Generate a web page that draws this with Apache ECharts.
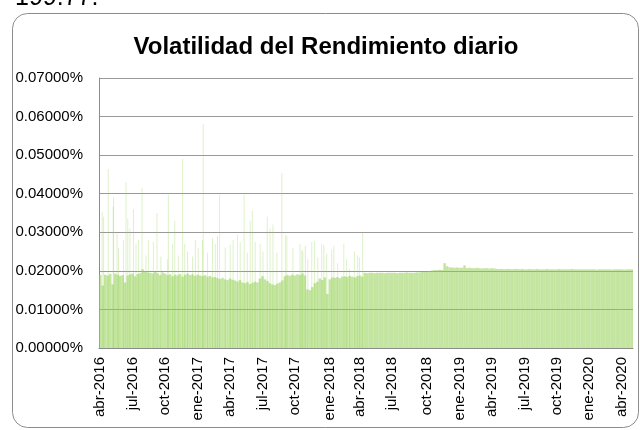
<!DOCTYPE html>
<html>
<head>
<meta charset="utf-8">
<script src="https://cdn.jsdelivr.net/npm/echarts@6/dist/echarts.min.js"></script>
<style>
  html, body { margin: 0; padding: 0; background: #ffffff; }
  #chart { width: 640px; height: 430px; }
</style>
</head>
<body>
<div id="chart"></div>
<script>
// volatilidad semanal (en %), una barra por semana desde el lunes 2016-03-28
const base2016 = [
  0.0189, 0.0162, 0.0190, 0.0188,
  0.0192, 0.0165, 0.0193, 0.0190,
  0.0187, 0.0189, 0.0170, 0.0188,
  0.0191, 0.0193, 0.0186, 0.0192, 0.0194,
  0.0204, 0.0199, 0.0196,
  0.0195, 0.0193, 0.0197, 0.0194, 0.0189, 0.0196, 0.0193,
  0.0189, 0.0191, 0.0186, 0.0190,
  0.0188, 0.0192, 0.0185, 0.0190, 0.0193,
  0.0189, 0.0191, 0.0187, 0.0190
];
const base2017 = [
  0.0188, 0.0186, 0.0189, 0.0185, 0.0187, 0.0183, 0.0184,
  0.0181, 0.0179, 0.0182, 0.0178, 0.0176, 0.0180, 0.0177,
  0.0175, 0.0172, 0.0176, 0.0170, 0.0168, 0.0171, 0.0166, 0.0169, 0.0172, 0.0170,
  0.0180, 0.0186, 0.0178, 0.0174,
  0.0168, 0.0165, 0.0163, 0.0167, 0.0170, 0.0175,
  0.0186, 0.0189, 0.0187, 0.0190, 0.0188, 0.0191, 0.0189,
  0.0193, 0.0188, 0.0152, 0.0150, 0.0158,
  0.0168, 0.0172, 0.0180, 0.0176, 0.0183, 0.0140
];
const base2018 = [
  0.0178, 0.0183, 0.0182, 0.0184, 0.0181, 0.0185,
  0.0186, 0.0184, 0.0187, 0.0185, 0.0183, 0.0186, 0.0188, 0.0185,
  0.0195, 0.0194, 0.0195, 0.0195, 0.0194, 0.0195, 0.0195, 0.0195, 0.0194, 0.0195,
  0.0195, 0.0195, 0.0195, 0.0194, 0.0195, 0.0195, 0.0195, 0.0196, 0.0195, 0.0195,
  0.0195, 0.0196, 0.0196, 0.0197, 0.0198, 0.0198,
  0.0199, 0.0201, 0.0202, 0.0202, 0.0203, 0.0202,
  0.0220,
  0.0212, 0.0209, 0.0209, 0.0208, 0.0209, 0.0208
];
const base2019 = [
  0.0208, 0.0214, 0.0207, 0.0208, 0.0207, 0.0207, 0.0208, 0.0207, 0.0206, 0.0207,
  0.0207, 0.0206, 0.0207, 0.0206, 0.0205, 0.0205, 0.0205, 0.0204, 0.0205, 0.0205,
  0.0204, 0.0205, 0.0205, 0.0204, 0.0205, 0.0204, 0.0204, 0.0205, 0.0204, 0.0204,
  0.0205, 0.0204, 0.0204, 0.0204, 0.0205, 0.0204, 0.0204, 0.0204, 0.0204, 0.0205,
  0.0204, 0.0204, 0.0204, 0.0204, 0.0205, 0.0204, 0.0204, 0.0204, 0.0204, 0.0204,
  0.0204, 0.0204
];
const base2020 = [
  0.0204, 0.0204, 0.0203, 0.0204, 0.0204, 0.0204, 0.0204, 0.0204, 0.0203, 0.0204,
  0.0204, 0.0204, 0.0204, 0.0203, 0.0204, 0.0204, 0.0204
];

// días con volatilidad alta (picos finos)
const spikes = [
  ['2016-04-04', 0.0353], ['2016-04-08', 0.0340], ['2016-04-21', 0.0464], ['2016-05-05', 0.0366],
  ['2016-05-06', 0.0390], ['2016-05-16', 0.0297], ['2016-05-20', 0.0260], ['2016-06-03', 0.0280],
  ['2016-06-10', 0.0430], ['2016-06-15', 0.0335], ['2016-06-21', 0.0310], ['2016-07-01', 0.0360],
  ['2016-07-08', 0.0270], ['2016-07-15', 0.0280], ['2016-07-25', 0.0415], ['2016-08-05', 0.0240],
  ['2016-08-12', 0.0280], ['2016-08-26', 0.0275], ['2016-09-05', 0.0350], ['2016-09-16', 0.0237],
  ['2016-10-05', 0.0230], ['2016-10-07', 0.0397], ['2016-10-19', 0.0270], ['2016-10-25', 0.0330],
  ['2016-11-04', 0.0240], ['2016-11-16', 0.0490], ['2016-11-22', 0.0270], ['2016-11-30', 0.0250],
  ['2016-12-14', 0.0237], ['2016-12-22', 0.0280], ['2016-12-30', 0.0260],
  ['2017-01-11', 0.0280], ['2017-01-13', 0.0580], ['2017-01-25', 0.0247], ['2017-02-08', 0.0285],
  ['2017-02-16', 0.0270], ['2017-02-22', 0.0290], ['2017-02-28', 0.0397], ['2017-03-16', 0.0260],
  ['2017-03-30', 0.0268], ['2017-04-07', 0.0280], ['2017-04-19', 0.0293], ['2017-04-27', 0.0275],
  ['2017-05-08', 0.0397], ['2017-05-17', 0.0247], ['2017-05-25', 0.0330], ['2017-05-31', 0.0355],
  ['2017-06-08', 0.0275], ['2017-06-22', 0.0270], ['2017-06-30', 0.0250], ['2017-07-12', 0.0340],
  ['2017-07-20', 0.0310], ['2017-07-28', 0.0320], ['2017-08-08', 0.0247], ['2017-08-22', 0.0454],
  ['2017-09-01', 0.0293], ['2017-09-05', 0.0290], ['2017-09-22', 0.0260], ['2017-10-12', 0.0270],
  ['2017-10-17', 0.0254], ['2017-10-20', 0.0250], ['2017-10-27', 0.0265], ['2017-11-03', 0.0230],
  ['2017-11-14', 0.0275], ['2017-11-22', 0.0277], ['2017-12-01', 0.0235], ['2017-12-12', 0.0270],
  ['2017-12-18', 0.0268], ['2017-12-26', 0.0245],
  ['2018-01-09', 0.0255], ['2018-01-15', 0.0265], ['2018-01-26', 0.0220], ['2018-02-12', 0.0270],
  ['2018-02-20', 0.0230], ['2018-02-28', 0.0205], ['2018-03-14', 0.0250], ['2018-03-23', 0.0240],
  ['2018-03-28', 0.0235], ['2018-04-06', 0.0298]
];

// etiquetas trimestrales del eje X
const tickDates = [
  '2016-04-01', '2016-07-01', '2016-10-01', '2017-01-01', '2017-04-01', '2017-07-01',
  '2017-10-01', '2018-01-01', '2018-04-01', '2018-07-01', '2018-10-01', '2019-01-01',
  '2019-04-01', '2019-07-01', '2019-10-01', '2020-01-01', '2020-04-01'
];
const tickLabels = [
  'abr-2016', 'jul-2016', 'oct-2016', 'ene-2017', 'abr-2017', 'jul-2017',
  'oct-2017', 'ene-2018', 'abr-2018', 'jul-2018', 'oct-2018', 'ene-2019',
  'abr-2019', 'jul-2019', 'oct-2019', 'ene-2020', 'abr-2020'
];

const DAY = 86400000;
const firstWeek = Date.UTC(2016, 2, 28);
const toTs = s => {
  const p = s.split('-');
  return Date.UTC(+p[0], +p[1] - 1, +p[2]);
};
const fmt = t => new Date(t).toISOString().slice(0, 10);

const weekly = [].concat(base2016, base2017, base2018, base2019, base2020);
const categories = weekly.map((_, i) => fmt(firstWeek + i * 7 * DAY));

// semana donde cae cada etiqueta
const labelAt = {};
tickDates.forEach((d, k) => {
  const idx = Math.floor((toTs(d) - firstWeek) / (7 * DAY));
  labelAt[idx] = tickLabels[k];
});

const font = 'Liberation Sans';
const myChart = echarts.init(document.getElementById('chart'));

const option = {
  animation: false,
  grid: { left: 99, right: 7, top: 78, bottom: 82 },
  graphic: [
    {
      type: 'rect',
      shape: { x: 12.5, y: 13.5, width: 626, height: 414, r: 15 },
      style: { fill: 'none', stroke: '#8c8c8c', lineWidth: 1 },
      silent: true
    },
    {
      type: 'text',
      x: 15, y: -2,
      style: { text: '199.77.', font: '25px "Liberation Sans"', fill: '#000', verticalAlign: 'middle' },
      silent: true
    },
    {
      type: 'text',
      x: 326, y: 47,
      style: {
        text: 'Volatilidad del Rendimiento diario',
        font: 'bold 24px "Liberation Sans"',
        fill: '#000', align: 'center', verticalAlign: 'middle'
      },
      silent: true
    }
  ],
  xAxis: [
    {
      type: 'category',
      data: categories,
      axisLine: { lineStyle: { color: '#8c8c8c' } },
      axisTick: { show: false },
      axisLabel: {
        interval: i => labelAt[i] !== undefined,
        formatter: (v, i) => labelAt[i] || '',
        rotate: 90,
        margin: 9,
        fontSize: 15,
        fontFamily: font,
        color: '#000'
      }
    },
    {
      type: 'time',
      show: false,
      min: firstWeek,
      max: firstWeek + weekly.length * 7 * DAY
    }
  ],
  yAxis: {
    type: 'value',
    min: 0,
    max: 0.07,
    interval: 0.01,
    axisLine: { show: true, lineStyle: { color: '#8c8c8c' } },
    axisTick: { show: false },
    splitLine: { lineStyle: { color: '#999999' } },
    axisLabel: {
      formatter: v => v.toFixed(5) + '%',
      fontSize: 15,
      fontFamily: font,
      color: '#000',
      margin: 16
    }
  },
  series: [
    {
      name: 'Volatilidad',
      type: 'bar',
      data: weekly,
      barCategoryGap: '0%',
      itemStyle: { color: 'rgba(146, 208, 80, 0.55)' },
      z: 3
    },
    {
      name: 'Picos',
      type: 'bar',
      xAxisIndex: 1,
      data: spikes.map(s => [toTs(s[0]) + DAY / 2, s[1]]),
      barWidth: 1,
      itemStyle: { color: 'rgba(146, 208, 80, 0.3)' },
      z: 2
    }
  ]
};

myChart.setOption(option);
</script>
</body>
</html>
